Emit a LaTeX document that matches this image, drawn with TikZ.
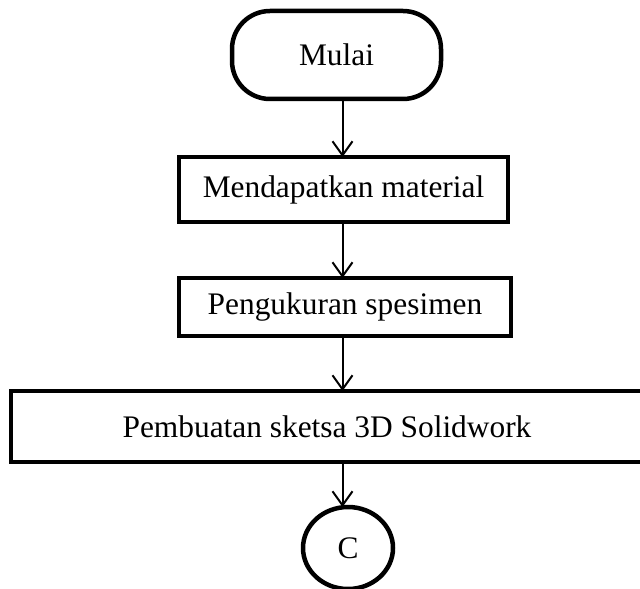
\documentclass[tikz,border=0pt]{standalone}
\usepackage{fontspec}
\setmainfont{Liberation Serif}
\usetikzlibrary{shapes.geometric,arrows.meta}
\begin{document}
\begin{tikzpicture}[x=1bp,y=-1bp,
  every node/.style={font=\fontsize{31.5}{36}\selectfont, inner sep=0pt, outer sep=0pt},
  terminal/.style={draw, line width=4.5bp, rounded corners=38bp, minimum width=209bp, minimum height=88bp},
  process/.style={draw, line width=4.5bp, minimum width=#1},
  connector/.style={draw, line width=4.5bp, ellipse, minimum width=90bp, minimum height=82bp},
  flow/.style={line width=2bp, -{Straight Barb[length=14bp,width=20bp,line width=2bp]}}
]
\useasboundingbox (0,0) rectangle (640,589);
\clip (0,0) rectangle (640,589);

% flowchart steps
\node[terminal] (start) at (336.5,55) {Mulai};
\node[process=329bp, minimum height=65bp] (material) at (343.5,189.5) {Mendapatkan material};
\node[process=332bp, minimum height=58bp] (ukur) at (345,307) {Pengukuran spesimen};
\node[process=632bp, minimum height=71bp] (sketsa) at (327,426.5) {Pembuatan sketsa 3D Solidwork};
\node[connector] (c) at (348,548) {C};

% common vertical axis of the arrows
\coordinate (axis) at (342.5,0);

\draw[flow] (start.south -| axis) -- (material.north -| axis);
\draw[flow] (material.south -| axis) -- (ukur.north -| axis);
\draw[flow] (ukur.south -| axis) -- (sketsa.north -| axis);
\draw[flow] (sketsa.south -| axis) -- (c.north -| axis);
\end{tikzpicture}
\end{document}
